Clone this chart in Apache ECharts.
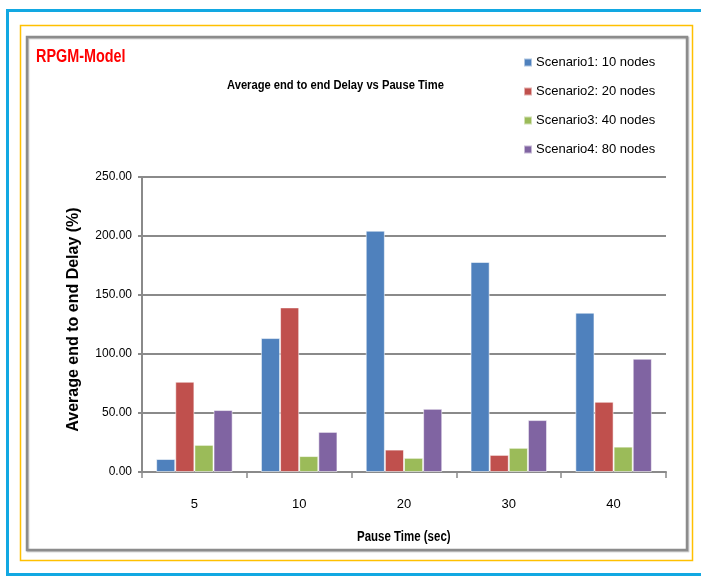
<!DOCTYPE html>
<html>
<head>
<meta charset="utf-8">
<script src="https://cdn.jsdelivr.net/npm/echarts@6/dist/echarts.min.js"></script>
<style>
  html, body { margin: 0; padding: 0; background: #fff; }
  #chart { width: 701px; height: 576px; }
</style>
</head>
<body>
<div id="chart"></div>
<script>
// Pause times (sec) on the category axis
const pauseTimes = ['5', '10', '20', '30', '40'];

// Average end to end delay per scenario
const scenario1 = [11, 113.5, 204.5, 178, 135];
const scenario2 = [76.5, 139.5, 19, 14.5, 59.5];
const scenario3 = [23, 13.5, 12, 20.5, 21.5];
const scenario4 = [52.5, 34, 53.5, 44, 96];

const seriesNames = [
  'Scenario1: 10 nodes',
  'Scenario2: 20 nodes',
  'Scenario3: 40 nodes',
  'Scenario4: 80 nodes'
];
const seriesValues = [scenario1, scenario2, scenario3, scenario4];
const seriesColors = ['#4F81BD', '#C0504D', '#9BBB59', '#8064A2'];

const FONT = "'Liberation Sans', Arial, sans-serif";
const GRID_GRAY = '#8a8a8a';

const chart = echarts.init(document.getElementById('chart'), null, { renderer: 'canvas' });

// Horizontally condensed bold text (narrow look for headings)
function condensedText(text, x, y, size, color, scaleX) {
  return {
    type: 'text', silent: true, x, y, scaleX, z: 10,
    style: { text, fill: color, font: `bold ${size}px ${FONT}`,
             textAlign: 'left', textVerticalAlign: 'middle' }
  };
}

chart.setOption({
  backgroundColor: '#ffffff',
  animation: false,
  legend: {
    orient: 'vertical',
    left: 518, top: 51,
    icon: 'rect',
    itemWidth: 8, itemHeight: 8,
    itemGap: 16,
    textStyle: { fontFamily: FONT, fontSize: 13, color: '#000', padding: [0, 0, 0, -1] },
    data: seriesNames
  },
  grid: { left: 142, right: 35, top: 177, bottom: 104, containLabel: false },
  xAxis: {
    type: 'category',
    data: pauseTimes,
    axisLine: { lineStyle: { color: GRID_GRAY, width: 2 } },
    axisTick: { show: true, alignWithLabel: false, length: 6, lineStyle: { color: GRID_GRAY, width: 1.5 } },
    axisLabel: { margin: 26, fontFamily: FONT, fontSize: 13, color: '#000' }
  },
  yAxis: {
    type: 'value',
    min: 0, max: 250, interval: 50,
    name: 'Average end to end Delay (%)',
    nameLocation: 'middle',
    nameGap: 60,
    nameTextStyle: { fontFamily: FONT, fontWeight: 'bold', fontSize: 16, color: '#000',
                     padding: [0, 0, 0, 10] },
    axisLine: { show: true, lineStyle: { color: GRID_GRAY, width: 2 } },
    axisTick: { show: true, length: 4, lineStyle: { color: GRID_GRAY, width: 2 } },
    axisLabel: {
      margin: 10, fontFamily: FONT, fontSize: 12, color: '#000',
      formatter: v => v.toFixed(2)
    },
    splitLine: { lineStyle: { color: GRID_GRAY, width: 2 } }
  },
  series: seriesNames.map((name, i) => ({
    name,
    type: 'bar',
    data: seriesValues[i],
    barGap: '0%',
    barCategoryGap: '27%',
    itemStyle: { color: seriesColors[i], borderColor: 'rgba(255,255,255,0.55)', borderWidth: 1 }
  })),
  graphic: [
    { type: 'rect', silent: true, z: -1,
      shape: { x: 7.5, y: 10.5, width: 760, height: 564 },
      style: { fill: 'none', stroke: '#12a8e2', lineWidth: 3 } },
    { type: 'rect', silent: true, z: -1,
      shape: { x: 20.5, y: 25.5, width: 672, height: 535 },
      style: { fill: 'none', stroke: '#ffc000', lineWidth: 1.5 } },
    { type: 'rect', silent: true, z: -1,
      shape: { x: 27, y: 37, width: 660, height: 513 },
      style: { fill: 'none', stroke: '#8c8c8c', lineWidth: 2.5,
               shadowColor: 'rgba(0,0,0,0.25)', shadowOffsetX: 1, shadowOffsetY: 1, shadowBlur: 1 } },
    condensedText('RPGM-Model', 36, 57, 18, '#ff0000', 0.80),
    condensedText('Average end to end Delay vs Pause Time', 227, 85, 13, '#000', 0.86),
    condensedText('Pause Time (sec)', 357, 537, 14, '#000', 0.82)
  ]
});
</script>
</body>
</html>
